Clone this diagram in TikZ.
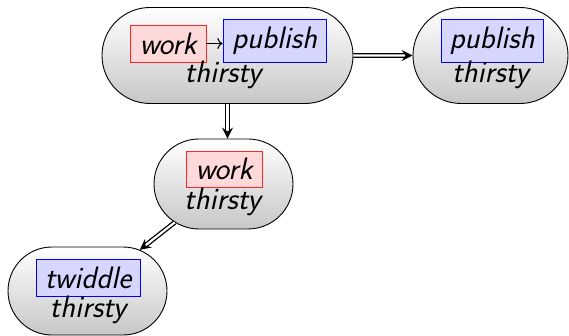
\documentclass[tikz,border=0pt]{standalone}
\usetikzlibrary{shapes.misc,arrows.meta}
\begin{document}
\begin{tikzpicture}[x=1pt,y=-1pt,
  font=\fontsize{31}{37}\selectfont\sffamily\slshape,
  state/.style={rounded rectangle, draw=black, line width=0.9pt, top color=white, bottom color=black!22, inner sep=0pt},
  redbox/.style={draw=red!85, fill=red!15, line width=0.9pt, inner sep=0pt},
  bluebox/.style={draw=blue, fill=blue!16, line width=0.9pt, inner sep=0pt},
  lbl/.style={anchor=base, inner sep=0pt},
  dbl/.style={draw=black, double, double distance=2.2pt, line width=1.3pt, -{Stealth[length=11pt,width=11pt,inset=4pt]}},
  seq/.style={draw=black, line width=1.1pt, -{To[scale=1.3]}}]
\useasboundingbox (0,0) rectangle (569,336);
% state A
\node[state, minimum width=251pt, minimum height=96pt] (A) at (227.5,55.5) {};
\node[redbox, minimum width=76pt, minimum height=37pt] (Awork) at (168,43.5) {work};
\node[bluebox, minimum width=103pt, minimum height=43pt] (Apub) at (274.5,40.5) {publish};
\draw[seq] (Awork.east) -- (Awork.east -| Apub.west);
\node[lbl] (Athirsty) at (223,83) {thirsty};
% state B
\node[state, minimum width=155pt, minimum height=96pt] (B) at (490.5,55.5) {};
\node[bluebox, minimum width=102pt, minimum height=43pt] (Bpub) at (492,40.5) {publish};
\node[lbl] (Bthirsty) at (490.5,83) {thirsty};
% state C
\node[state, minimum width=139pt, minimum height=90pt] (C) at (223.5,184) {};
\node[redbox, minimum width=76pt, minimum height=36pt] (Cwork) at (224,169) {work};
\node[lbl] (Cthirsty) at (222.5,210) {thirsty};
% state D
\node[state, minimum width=159pt, minimum height=88pt] (D) at (87.5,291) {};
\node[bluebox, minimum width=104pt, minimum height=37pt] (Dtw) at (88,277.5) {twiddle};
\node[lbl] (Dthirsty) at (88,317) {thirsty};
% transitions
\draw[dbl] (A) -- (B);
\draw[dbl] (A.south) -- (A.south |- C.north);
\draw[dbl] (C) -- (D);
\end{tikzpicture}
\end{document}
